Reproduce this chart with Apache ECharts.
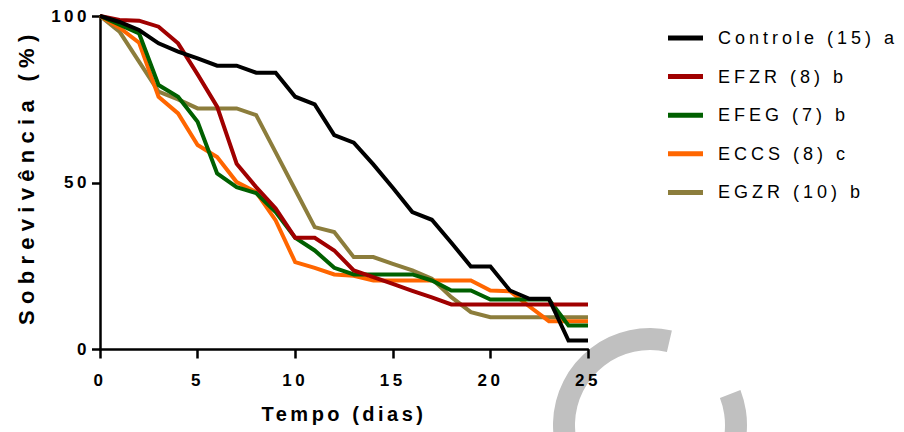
<!DOCTYPE html>
<html>
<head>
<meta charset="utf-8">
<script src="https://cdn.jsdelivr.net/npm/echarts@6/dist/echarts.min.js"></script>
<style>
html, body { margin: 0; padding: 0; background: #ffffff; }
#chart { width: 904px; height: 432px; }
#chart text { letter-spacing: 3.5px; }
#chart text[style*="22px"] { letter-spacing: 6.3px; }
#chart text[style*="18px"] { letter-spacing: 4px; }
</style>
</head>
<body>
<div id="chart"></div>
<script>
// ---- data ----
const days = [0, 1, 2, 3, 4, 5, 6, 7, 8, 9, 10, 11, 12, 13, 14, 15, 16, 17, 18, 19, 20, 21, 22, 23, 24, 25];
const seriesNames = ['Controle (15) a', 'EFZR (8) b', 'EFEG (7) b', 'ECCS (8) c', 'EGZR (10) b'];
const controle = [100, 98.2, 95.8, 91.8, 89.3, 87.3, 85.1, 85.1, 83.0, 83.0, 75.8, 73.5, 64.3, 62.0, 55.5, 48.5, 41.2, 38.9, 32.0, 24.9, 24.9, 17.7, 15.2, 15.2, 2.7, 2.7];
const efzr = [100, 98.8, 98.6, 96.8, 91.8, 82.5, 72.8, 55.7, 48.7, 42.3, 33.5, 33.5, 29.7, 23.7, 21.7, 19.7, 17.6, 15.6, 13.5, 13.5, 13.5, 13.5, 13.5, 13.5, 13.5, 13.5];
const efeg = [100, 97.4, 94.8, 79.3, 75.8, 68.3, 52.8, 48.7, 46.9, 41.2, 33.5, 29.7, 24.5, 22.5, 22.5, 22.5, 22.5, 20.7, 17.7, 17.7, 15.0, 15.0, 15.0, 15.0, 7.2, 7.2];
const eccs = [100, 96.5, 92.0, 75.8, 70.8, 61.3, 57.7, 50.2, 47.2, 38.7, 26.2, 24.5, 22.5, 22.1, 20.7, 20.7, 20.7, 20.7, 20.7, 20.7, 17.7, 17.5, 12.9, 8.5, 8.5, 8.5];
const egzr = [100, 95.3, 86.3, 77.3, 75.0, 72.3, 72.3, 72.3, 70.3, 59.1, 47.9, 36.7, 35.2, 27.7, 27.7, 25.7, 23.7, 21.2, 15.7, 11.2, 9.7, 9.7, 9.7, 9.7, 9.7, 9.7];
const xTicks = [0, 5, 10, 15, 20, 25];
const yTicks = [0, 50, 100];
const xTitle = 'Tempo (dias)';
const yTitle = 'Sobrevivência (%)';

const allValues = [controle, efzr, efeg, eccs, egzr];
const colors = ['#000000', '#a00000', '#006000', '#ff6600', '#8c7d3c'];

const chart = echarts.init(document.getElementById('chart'), null, { renderer: 'svg' });

const axisLineStyle = { color: '#000000', width: 2.5 };

const series = allValues.map((vals, i) => ({
  name: seriesNames[i],
  type: 'line',
  data: vals.map((v, k) => [days[k], v]),
  symbol: 'none',
  showSymbol: false,
  z: 10 - i,
  lineStyle: { color: colors[i], width: 4, join: 'miter' },
  itemStyle: { color: colors[i] },
  emphasis: { disabled: true }
}));

chart.setOption({
  animation: false,
  backgroundColor: '#ffffff',
  grid: { left: 100, right: 316, top: 16, bottom: 82.5, containLabel: false },
  xAxis: {
    type: 'value',
    min: xTicks[0],
    max: xTicks[xTicks.length - 1],
    interval: xTicks[1] - xTicks[0],
    name: xTitle,
    nameLocation: 'middle',
    nameGap: 54,
    nameTextStyle: { color: '#000', fontSize: 20, fontWeight: 'bold', fontFamily: 'Liberation Sans' },
    axisLine: { show: true, onZero: false, lineStyle: axisLineStyle },
    axisTick: { show: true, length: 9, lineStyle: axisLineStyle },
    splitLine: { show: false },
    axisLabel: { color: '#000', fontSize: 17, fontWeight: 'bold', fontFamily: 'Liberation Sans', margin: 22 }
  },
  yAxis: {
    type: 'value',
    min: yTicks[0],
    max: yTicks[yTicks.length - 1],
    interval: yTicks[1] - yTicks[0],
    name: yTitle,
    nameLocation: 'middle',
    nameGap: 63,
    nameTextStyle: { color: '#000', fontSize: 22, fontWeight: 'bold', fontFamily: 'Liberation Sans', padding: [0, 0, 0, 12] },
    axisLine: { show: true, onZero: false, lineStyle: axisLineStyle },
    axisTick: { show: true, length: 8, lineStyle: axisLineStyle },
    splitLine: { show: false },
    axisLabel: { color: '#000', fontSize: 17, fontWeight: 'bold', fontFamily: 'Liberation Sans', margin: 10 }
  },
  legend: {
    orient: 'vertical',
    left: 663,
    top: 23,
    itemWidth: 35,
    itemHeight: 5,
    itemGap: 18.6,
    icon: 'rect',
    data: seriesNames,
    textStyle: { color: '#000', fontSize: 18, fontFamily: 'Liberation Sans', lineHeight: 20, padding: [0, 0, 0, 10] }
  },
  graphic: [{
    type: 'sector',
    z: -10,
    silent: true,
    shape: { cx: 650, cy: 425, r0: 75, r: 97, startAngle: -0.37, endAngle: 4.94, clockwise: true },
    style: { fill: '#c0c0c0' }
  }],
  series: series
});
</script>
</body>
</html>
